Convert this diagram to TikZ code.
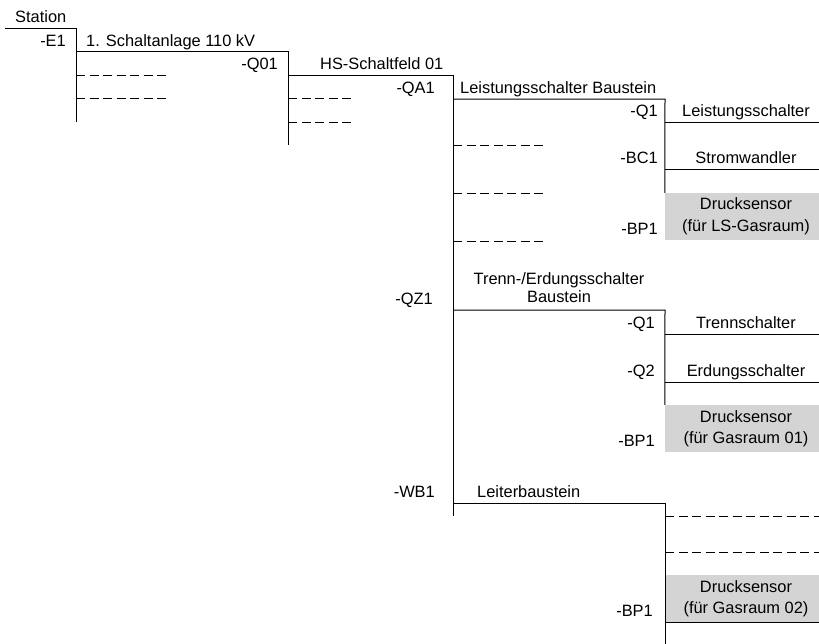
\documentclass[tikz,border=0pt]{standalone}
\usepackage{fontspec}
\setmainfont{Liberation Sans}
\usepackage{tikz}
\usetikzlibrary{positioning,calc}

\begin{document}
\begin{tikzpicture}[x=1pt,y=-1pt]
%% line, label and box styles
\tikzstyle{lbl}=[font=\fontsize{16.4}{19}\selectfont,inner sep=0pt]
\tikzstyle{bus}=[draw=black,line width=1pt]
\tikzstyle{stub}=[draw=black,line width=1pt,dash pattern=on 9pt off 4.5pt]
\definecolor{boxgray}{RGB}{212,212,212}
\tikzstyle{sensor}=[fill=boxgray,minimum width=162pt,minimum height=47pt,inner sep=0pt,align=center,font=\fontsize{16.4}{21.5}\selectfont]
\useasboundingbox (0,0) rectangle (819,643);
%%%%%%%%%%%%%%%%%%%%%%%%%%%%%%%%%%%%%%%%%%%%%%%%%%%%%%%%%%%%%%%%%%%%%%%%
%STATION
\node[lbl,anchor=base west] (station) at (15,22) {Station};
\coordinate (st0) at (5,28);
\coordinate (e1top) at (76,28);
\coordinate (e1bot) at (76,122);
%E1
\node[lbl,anchor=base east] (e1) at (66,46) {-E1};
\node[lbl,anchor=base west] (e1txt) at (86,46) {1. Schaltanlage 110 kV};
\coordinate (e1q01) at (76,51);
\coordinate (q01top) at (288,51);
\coordinate (q01bot) at (288,145);
\coordinate (e1d1) at (76,75);
\coordinate (e1d1end) at (170,75);
\coordinate (e1d2) at (76,98);
\coordinate (e1d2end) at (170,98);
%Q01
\node[lbl,anchor=base east] (q01) at (278,69) {-Q01};
\node[lbl,anchor=base west] (q01txt) at (320,69) {HS-Schaltfeld 01};
\coordinate (q01qa) at (288,75);
\coordinate (qtop) at (453,75);
\coordinate (qbot) at (453,516);
\coordinate (q01d1) at (288,98);
\coordinate (q01d1end) at (353,98);
\coordinate (q01d2) at (288,122);
\coordinate (q01d2end) at (353,122);

%%%%%%%%%%%%%%%%%%%%%%%%%%%%%%%%%%%%%%%%%%%%%%%%%%%%%%%%%%%%%%%%%%%%%%%%
%QA1
\node[lbl,anchor=base east] (qa1) at (435,93) {-QA1};
\node[lbl,anchor=base west] (qa1txt) at (460,93) {Leistungsschalter Baustein};
\coordinate (qa1a) at (453,99);
\coordinate (qa1b) at (665,99);
\coordinate (qa1d1) at (453,145);
\coordinate (qa1d1end) at (547,145);
\coordinate (qa1d2) at (453,193);
\coordinate (qa1d2end) at (547,193);
\coordinate (qa1d3) at (453,241);
\coordinate (qa1d3end) at (547,241);
\node[lbl,anchor=base east] (qa1q1) at (658,116.5) {-Q1};
\node[lbl,anchor=base] (qa1q1txt) at (746,116.5) {Leistungsschalter};
\coordinate (qa1q1a) at (665,122);
\coordinate (qa1q1b) at (827,122);
\node[lbl,anchor=base east] (qa1bc1) at (658,163.5) {-BC1};
\node[lbl,anchor=base] (qa1bc1txt) at (746,163.5) {Stromwandler};
\coordinate (qa1bc1a) at (665,169);
\coordinate (qa1bc1b) at (827,169);
\node[lbl,anchor=base east] (qa1bp1) at (658,234) {-BP1};
\node[sensor] (qa1sensor) at (746,216.5) {Drucksensor\\(für LS-Gasraum)};

%QZ1
\node[lbl,anchor=base east] (qz1) at (433,304) {-QZ1};
\node[lbl,anchor=south,align=center,font=\fontsize{16.4}{17.5}\selectfont] (qz1txt) at (559,302.5) {Trenn-/Erdungsschalter\\Baustein};
\coordinate (qz1a) at (453,310);
\coordinate (qz1b) at (665,310);
\node[lbl,anchor=base east] (qz1q1) at (655,328.5) {-Q1};
\node[lbl,anchor=base] (qz1q1txt) at (746,328.5) {Trennschalter};
\coordinate (qz1q1a) at (665,334);
\coordinate (qz1q1b) at (827,334);
\node[lbl,anchor=base east] (qz1q2) at (655,376) {-Q2};
\node[lbl,anchor=base] (qz1q2txt) at (746,376) {Erdungsschalter};
\coordinate (qz1q2a) at (665,382);
\coordinate (qz1q2b) at (827,382);
\node[lbl,anchor=base east] (qz1bp1) at (655,446) {-BP1};
\node[sensor] (qz1sensor) at (746,428.5) {Drucksensor\\(für Gasraum 01)};

%WB1
\node[lbl,anchor=base east] (wb1) at (435,497) {-WB1};
\node[lbl,anchor=base west] (wb1txt) at (477,497) {Leiterbaustein};
\coordinate (wb1a) at (453,503);
\coordinate (wb1b) at (665,503);
\coordinate (wb1bot) at (665,650);
\coordinate (wb1d1) at (665,516);
\coordinate (wb1d1end) at (827,516);
\coordinate (wb1d2) at (665,552);
\coordinate (wb1d2end) at (827,552);
\node[lbl,anchor=base east] (wb1bp1) at (653,616) {-BP1};
\node[sensor] (wb1sensor) at (746,598.5) {Drucksensor\\(für Gasraum 02)};

%%%%%%%%%%%%%%%%%%%%%%%%%%%%%%%%%%%%%%%%%%%%%%%%%%%%%%%%%%%%%%%%%%%%%%%%
%LINES
% solid tree lines
\draw[bus] (st0) -- (e1top) -- (e1bot);
\draw[bus] (e1q01) -- (q01top) -- (q01bot);
\draw[bus] (q01qa) -- (qtop) -- (qbot);
\draw[bus] (qa1a) -- (qa1b) -- (qa1sensor.north west);
\draw[bus] (qa1q1a) -- (qa1q1b);
\draw[bus] (qa1bc1a) -- (qa1bc1b);
\draw[bus] (qz1a) -- (qz1b) -- (qz1sensor.north west);
\draw[bus] (qz1q1a) -- (qz1q1b);
\draw[bus] (qz1q2a) -- (qz1q2b);
\draw[bus] (wb1a) -- (wb1b) -- (wb1bot);
\draw[bus] (wb1sensor.south west) -- (wb1sensor.south east);
% dashed placeholders
\draw[stub] (e1d1) -- (e1d1end);
\draw[stub] (e1d2) -- (e1d2end);
\draw[stub] (q01d1) -- (q01d1end);
\draw[stub] (q01d2) -- (q01d2end);
\draw[stub] (qa1d1) -- (qa1d1end);
\draw[stub] (qa1d2) -- (qa1d2end);
\draw[stub] (qa1d3) -- (qa1d3end);
\draw[stub] (wb1d1) -- (wb1d1end);
\draw[stub] (wb1d2) -- (wb1d2end);
\end{tikzpicture}
\end{document}
